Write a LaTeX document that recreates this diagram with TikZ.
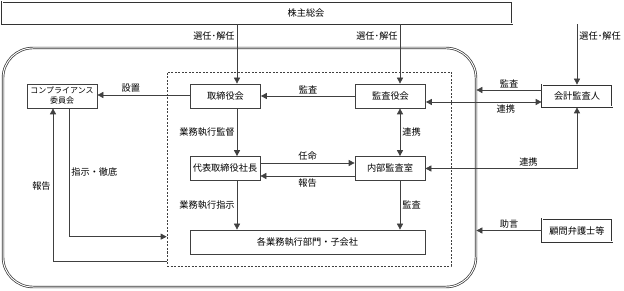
\documentclass[tikz,border=0pt]{standalone}
\usepackage{fontspec}
\newfontfamily\jpfont{Noto Sans CJK JP}
\usetikzlibrary{arrows.meta, positioning}

\begin{document}
\begin{tikzpicture}[
    x=1pt, y=-1pt,
    font=\jpfont\fontsize{9.2}{10}\selectfont,
    box/.style={draw=black!75, line width=0.7pt, minimum width=70pt, minimum height=24pt, inner sep=1pt, align=center},
    dline/.style={draw=black!80, double=white, double distance=1pt, line width=0.7pt},
    dbox/.style={box, dline},
    arrow/.style={-{Triangle[length=6pt, width=6pt]}, draw=black!75, line width=0.7pt},
    twoway/.style={{Triangle[length=6pt, width=6pt]}-{Triangle[length=6pt, width=6pt]}, draw=black!75, line width=0.7pt},
    lbl/.style={inner sep=2pt},
]
\useasboundingbox (0,0) rectangle (624,291);

% Frames
\node[dline, rounded corners=30pt, minimum width=473pt, minimum height=239pt] (corp) at (239.5,167.5) {};
\node[draw=black!75, line width=0.6pt, dash pattern=on 2pt off 1.5pt,
      minimum width=284pt, minimum height=194pt] (exec) at (309,169) {};

% Boxes
\node[dbox, minimum width=510pt, minimum height=22pt] (kabu) at (257,13) {\hspace*{98pt}株主総会};
\node[box, font=\jpfont\fontsize{8}{10}\selectfont] (comp) at (62,96) {コンプライアンス\\委員会};
\node[box] (tori) at (225.5,96) {取締役会};
\node[box] (kansa) at (390.5,96) {監査役会};
\node[dbox, minimum width=70pt, minimum height=22pt] (kaikei) at (577,96) {会計監査人};
\node[box] (daihyo) at (225,168.5) {代表取締役社長};
\node[box] (naibu) at (390,168.5) {内部監査室};
\node[box, minimum width=235pt] (kakubu) at (307.5,242) {各業務執行部門・子会社};
\node[dbox, minimum width=70pt, minimum height=23pt] (komon) at (577,230.5) {顧問弁護士等};

% Columns
\coordinate (colA) at (237,0);
\coordinate (colB) at (400,0);
\coordinate (colL) at (53,0);
\coordinate (colR) at (69,0);

% Arrows
\draw[arrow] (kabu.south -| colA) -- node[lbl, pos=0.19, left] {選任･解任} (tori.north -| colA);
\draw[arrow] (kabu.south -| colB) -- node[lbl, pos=0.19, left] {選任･解任} (kansa.north -| colB);
\draw[arrow] (kabu.south -| kaikei) -- node[lbl, pos=0.19, right] {選任･解任} (kaikei.north);
\draw[arrow] ([yshift=1pt]tori.west) -- node[lbl, pos=0.64, above] {設置} ([yshift=1pt]comp.east);
\draw[arrow] (kansa.west) -- node[lbl, midway, above] {監査} (tori.east);
\draw[arrow] ([yshift=6pt]kaikei.west) -- node[lbl, midway, above] {監査} ([yshift=6pt]kaikei.west -| corp.east);
\draw[twoway] ([yshift=-6pt]kansa.east) -- node[lbl, pos=0.69, below] {連携} ([yshift=-6pt]kaikei.west);
\draw[arrow] (tori.south -| colA) -- node[lbl, midway, left] {業務執行監督} (daihyo.north -| colA);
\draw[twoway] (kansa.south -| colB) -- node[lbl, midway, right] {連携} (naibu.north -| colB);
\draw[arrow] ([yshift=5.5pt]daihyo.east) -- node[lbl, midway, above] {任命} ([yshift=5.5pt]naibu.west);
\draw[arrow] ([yshift=-7.5pt]naibu.west) -- node[lbl, midway, below] {報告} ([yshift=-7.5pt]daihyo.east);
\draw[twoway] (kaikei.south) |- node[lbl, pos=0.66, above] {連携} (naibu.east);
\draw[arrow] (daihyo.south -| colA) -- node[lbl, midway, left] {業務執行指示} (kakubu.north -| colA);
\draw[arrow] (naibu.south -| colB) -- node[lbl, midway, right] {監査} (kakubu.north -| colB);
\draw[arrow] (komon.west) -- node[lbl, midway, above] {助言} (komon.west -| corp.east);
\draw[arrow] (comp.south -| colR) |- node[lbl, pos=0.25, right] {指示・徹底} ([yshift=-7pt]kakubu.north -| exec.west);
\draw[arrow] ([yshift=-7pt]kakubu.south -| exec.west) -| node[lbl, pos=0.745, left] {報告} (comp.south -| colL);

\end{tikzpicture}
\end{document}
